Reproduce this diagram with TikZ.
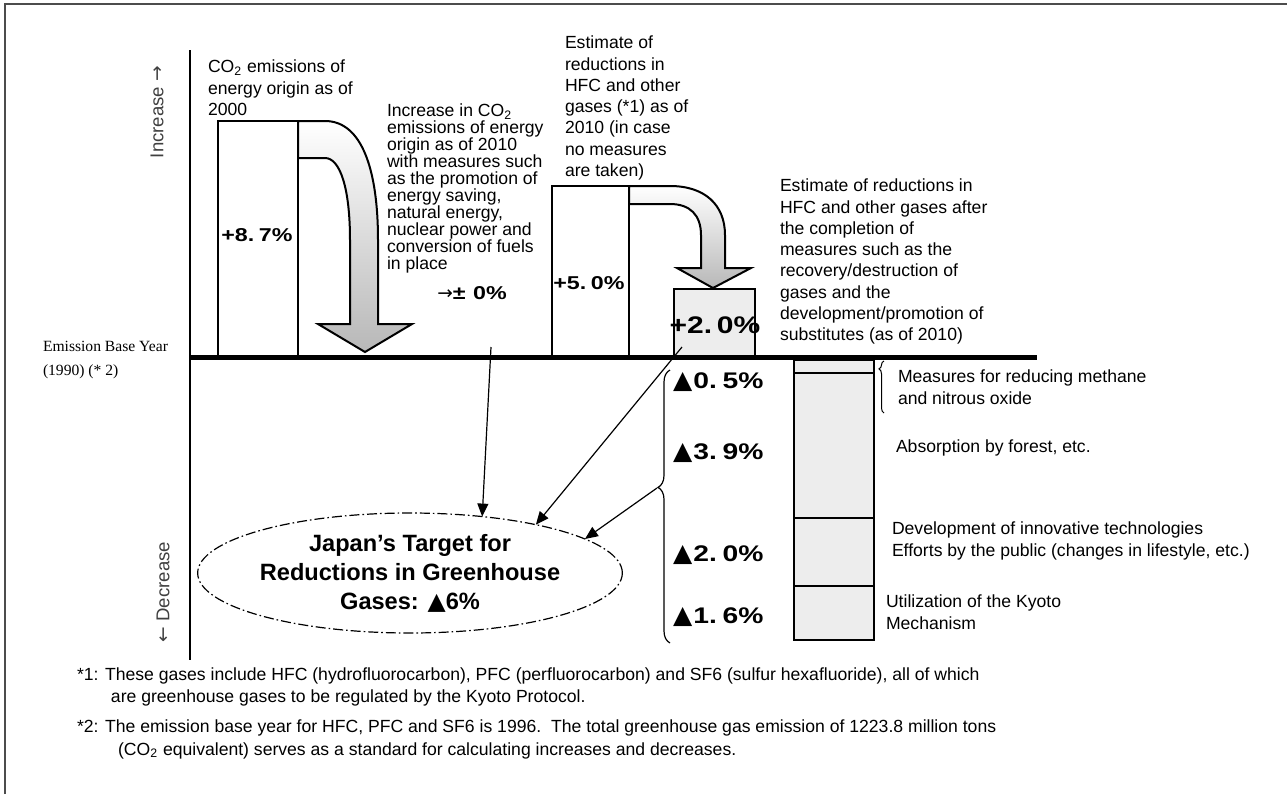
\documentclass[tikz,border=0pt]{standalone}
\usepackage{fontspec}
\setmainfont{Liberation Sans}
\newfontfamily\serifont{Liberation Serif}
\newfontfamily\symfont{DejaVu Sans}
\newfontfamily\pctfont[FakeStretch=1.25]{Liberation Sans}
\newcommand\tightfont{\fontsize{8.8}{8.5}\selectfont\lineskiplimit=-5pt\relax}
\newcommand\tri{{\symfont\fontsize{12.5}{13}\selectfont ▲}}
\usetikzlibrary{arrows.meta,decorations.pathreplacing,shapes.geometric}
\begin{document}
\begin{tikzpicture}[x=0.5pt,y=-0.5pt,
  every node/.style={inner sep=0pt, outer sep=0pt},
  txt/.style={anchor=north west, align=left, font=\fontsize{8.8}{10.65}\selectfont},
  pct/.style={font=\pctfont\bfseries\fontsize{9.3}{11}\selectfont},
  mpct/.style={anchor=west, font=\pctfont\bfseries\fontsize{11.3}{13}\selectfont},
  foot/.style={anchor=west, font=\fontsize{8.8}{10}\selectfont},
  bar/.style={draw, line width=1pt},
  dotfill/.style={fill=black!7},
  bigarrow/.style={draw, line width=1pt, top color=white, bottom color=black!28},
  conn/.style={line width=0.6pt, -{Triangle[length=6.5pt,width=5.5pt]}},
  axislbl/.style={rotate=90, font=\fontsize{9.3}{11}\selectfont, text=black!75},
]
\useasboundingbox (0,0) rectangle (1287,794);
\fill[white] (0,0) rectangle (1287,794);
% frame
\draw[line width=1pt, black!70] (5,794) -- (5,4) -- (1287,4);

% vertical axis
\draw[line width=1pt] (190,50) -- (190,660);
\node[axislbl] (inc) at (157,112) {Increase {\symfont →}};
\node[axislbl] (dec) at (163,592) {{\symfont ←} Decrease};
\node[txt, font=\serifont\fontsize{7.8}{12}\selectfont] (eby) at (43,341) {Emission Base Year\\(1990) (* 2)};

% bars above base line
\draw[bar, fill=white] (218,121) rectangle (298,357);
\draw[bar, fill=white] (552,186) rectangle (629,357);
\draw[bar, dotfill] (674,289) rectangle (755,357);

% curved arrows
\draw[bigarrow] (298,121) -- (325,121) .. controls (362,121) and (378,170) .. (378,240) -- (378,324) -- (412,324) -- (365,352) -- (318,324) -- (350,324) -- (350,240) .. controls (350,188) and (340,158) .. (325,158) -- (298,158) -- cycle;
\draw[bigarrow] (629,186) -- (670,186) .. controls (705,186) and (725,205) .. (725,235) -- (725,268) -- (751,268) -- (713,288) -- (677,268) -- (701,268) -- (701,235) .. controls (701,215) and (690,204) .. (670,204) -- (629,204) -- cycle;

% base line
\draw[line width=2.5pt] (190,357) -- (1037,357);

% stacked reductions
\draw[bar, dotfill] (794,360) rectangle (874,640);
\draw[bar] (794,373) -- (874,373) (794,518) -- (874,518) (794,586) -- (874,586);

% percentage labels
\node[pct] (p87) at (257,235) {+8.\hspace{0.25em}7\%};
\node[pct] (p00) at (472,293) {{\symfont\mdseries →}±\hspace{0.4em}0\%};
\node[pct] (p50) at (589,283) {+5.\hspace{0.25em}0\%};
\node[pct, font=\pctfont\bfseries\fontsize{12}{14}\selectfont] (p20) at (715,325) {+2.\hspace{0.2em}0\%};
\node[mpct] (m05) at (673,382) {\tri\hspace{0.05em}0.\hspace{0.25em}5\%};
\node[mpct] (m39) at (673,453) {\tri\hspace{0.05em}3.\hspace{0.25em}9\%};
\node[mpct] (m20) at (673,555) {\tri\hspace{0.05em}2.\hspace{0.25em}0\%};
\node[mpct] (m16) at (673,617) {\tri\hspace{0.05em}1.\hspace{0.25em}6\%};

% annotation texts
\node[txt] (t1) at (208,60) {CO\textsubscript{2} emissions of\\energy origin as of\\2000};
\node[txt, font=\tightfont] (t2) at (387,104) {Increase in CO\textsubscript{2}\\emissions of energy\\origin as of 2010\\with measures such\\as the promotion of\\energy saving,\\natural energy,\\nuclear power and\\conversion of fuels\\in place};
\node[txt] (t3) at (565,36) {Estimate of\\reductions in\\HFC and other\\gases (*1) as of\\2010 (in case\\no measures\\are taken)};
\node[txt] (t4) at (780,179) {Estimate of reductions in\\HFC and other gases after\\the completion of\\measures such as the\\recovery/destruction of\\gases and the\\development/promotion of\\substitutes (as of 2010)};
\node[txt, font=\fontsize{8.8}{11}\selectfont] (r1) at (898,370) {Measures for reducing methane\\and nitrous oxide};
\node[txt] (r2) at (896,440) {Absorption by forest, etc.};
\node[txt, font=\fontsize{8.8}{11}\selectfont] (r3) at (892,522) {Development of innovative technologies\\Efforts by the public (changes in lifestyle, etc.)};
\node[txt] (r4) at (886,595) {Utilization of the Kyoto\\Mechanism};

% braces
\draw[line width=0.6pt, decorate, decoration={brace, amplitude=6pt, aspect=0.57}] (670,643) -- (670,370);
\draw[line width=0.5pt, decorate, decoration={brace, amplitude=2.5pt, aspect=0.85}] (884,413) -- (884,361);
\coordinate (bt) at (657,488);

% target ellipse
\node[ellipse, draw, line width=0.6pt, dash pattern=on 5pt off 1.5pt on 0.8pt off 1.5pt,
  minimum width=178pt, minimum height=60pt, align=center,
  font=\bfseries\fontsize{11.8}{14.5}\selectfont] (goal) at (410,573)
  {Japan’s Target for\\Reductions in Greenhouse\\Gases: {\symfont ▲}6\%};

% connectors
\coordinate (c0) at (491,347);
\coordinate (c2) at (682,347);
\draw[conn] (c0) -- (goal.38);
\draw[conn] (c2) -- (goal.21);
\draw[conn] (bt) -- (goal.11);

% footnotes
\node[foot] (f1) at (77,676) {*1: These gases include HFC (hydrofluorocarbon), PFC (perfluorocarbon) and SF6 (sulfur hexafluoride), all of which};
\node[foot] (f1b) at (111,698) {are greenhouse gases to be regulated by the Kyoto Protocol.};
\node[foot] (f2) at (77,728) {*2: The emission base year for HFC, PFC and SF6 is 1996.\ \ The total greenhouse gas emission of 1223.8 million tons};
\node[foot] (f2b) at (118,751) {(CO\textsubscript{2} equivalent) serves as a standard for calculating increases and decreases.};
\end{tikzpicture}
\end{document}
